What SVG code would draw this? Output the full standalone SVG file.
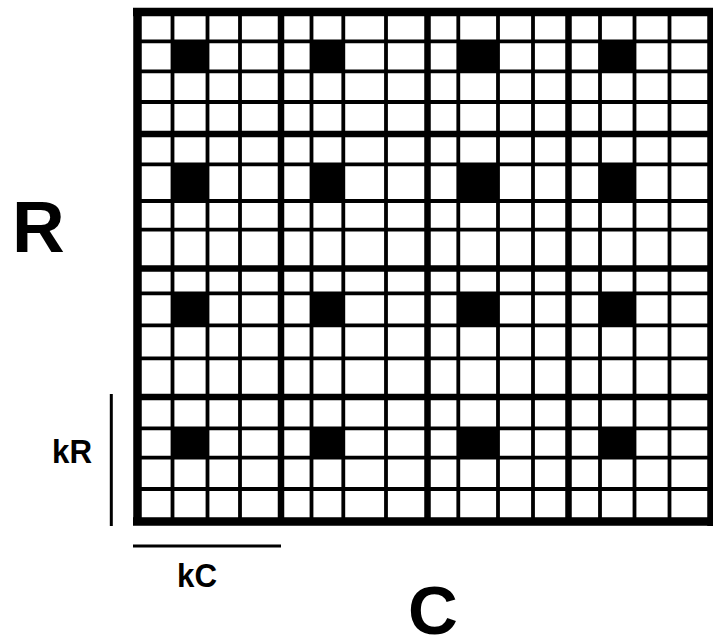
<svg xmlns="http://www.w3.org/2000/svg" width="713" height="643" viewBox="0 0 713 643">
<style>
.thin{stroke:#000;stroke-width:3.8;fill:none}
.blk{stroke:#000;stroke-width:6.5;fill:none}
.out{stroke:#000;stroke-width:8.5;fill:none}
.cell{fill:#000}
.lbl{font-family:"Liberation Sans",Arial,sans-serif;font-weight:bold;fill:#000}
.dim{stroke:#000;stroke-width:3;fill:none}
</style>
<rect width="713" height="643" fill="#fff"/>
<g id="filled-cells">
<rect class="cell" x="172.5" y="41.3" width="35" height="30"/>
<rect class="cell" x="311.5" y="41.3" width="31.8" height="30"/>
<rect class="cell" x="458.3" y="41.3" width="39.7" height="30"/>
<rect class="cell" x="600" y="41.3" width="34.5" height="30"/>
<rect class="cell" x="172.5" y="164.3" width="35" height="36.7"/>
<rect class="cell" x="311.5" y="164.3" width="31.8" height="36.7"/>
<rect class="cell" x="458.3" y="164.3" width="39.7" height="36.7"/>
<rect class="cell" x="600" y="164.3" width="34.5" height="36.7"/>
<rect class="cell" x="172.5" y="293.3" width="35" height="32"/>
<rect class="cell" x="311.5" y="293.3" width="31.8" height="32"/>
<rect class="cell" x="458.3" y="293.3" width="39.7" height="32"/>
<rect class="cell" x="600" y="293.3" width="34.5" height="32"/>
<rect class="cell" x="172.5" y="428.3" width="35" height="29.4"/>
<rect class="cell" x="311.5" y="428.3" width="31.8" height="29.4"/>
<rect class="cell" x="458.3" y="428.3" width="39.7" height="29.4"/>
<rect class="cell" x="600" y="428.3" width="34.5" height="29.4"/>
</g>
<g id="grid-lines">
<path class="thin" d="M137 41.3H713M137 71.3H713M137 102H713M137 164.3H713M137 201H713M137 229.7H713M137 293.3H713M137 325.3H713M137 358.3H713M137 428.3H713M137 457.7H713M137 489H713"/>
<path class="thin" d="M172.5 12V521M207.5 12V521M240 12V521M311.5 12V521M343.3 12V521M386 12V521M458.3 12V521M498 12V521M533 12V521M600 12V521M634.5 12V521M669.5 12V521"/>
<path class="blk" d="M137 134H713M137 268.5H713M137 397H713"/>
<path class="blk" d="M281 12V521M427.5 12V521M568.5 12V521"/>
<path class="out" d="M137.5 12V521.5M133 12H713M133 521.5H713M711.5 8V526"/>
</g>
<g id="dimensions">
<line class="dim" x1="111.3" y1="394" x2="111.3" y2="526"/>
<line class="dim" x1="133" y1="546" x2="281" y2="546"/>
</g>
<g id="labels">
<text class="lbl" x="12" y="252" font-size="73">R</text>
<text class="lbl" x="52" y="463" font-size="34" textLength="40" lengthAdjust="spacingAndGlyphs">kR</text>
<text class="lbl" x="177" y="586.5" font-size="34" textLength="40" lengthAdjust="spacingAndGlyphs">kC</text>
<text class="lbl" x="408" y="634" font-size="69">C</text>
</g>
</svg>
